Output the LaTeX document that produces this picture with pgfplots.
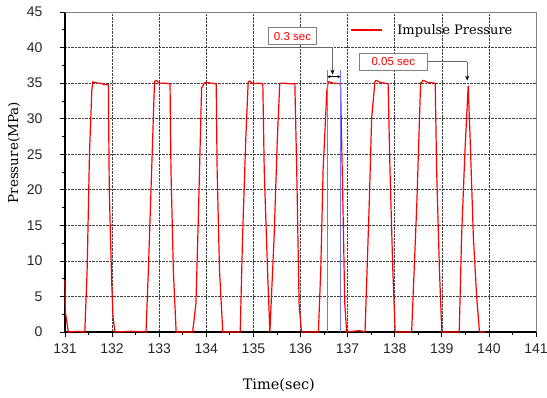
\documentclass[border=0pt]{standalone}
\usepackage{fontspec}
\setmainfont{Liberation Sans}
\newfontfamily\labelfont{DejaVu Serif}
\usepackage{pgfplots}
\pgfplotsset{compat=1.18}
\usetikzlibrary{arrows.meta}
\begin{document}
\begin{tikzpicture}
\begin{axis}[
  scale only axis,
  width=471pt, height=320pt,
  xmin=131, xmax=141, ymin=0, ymax=45,
  xtick={131,132,...,141}, ytick={0,5,...,45},
  minor x tick num=1, minor y tick num=1,
  tick align=outside,
  major tick length=5pt, minor tick length=3pt,
  tick style={black, line width=0.7pt},
  axis x line*=bottom, axis y line*=left,
  axis line style={black, line width=1.2pt, -},
  grid=major,
  major grid style={black!75, densely dotted, line width=0.6pt},
  /pgf/number format/assume math mode=true,
  /pgf/number format/1000 sep={},
  tick label style={font=\fontsize{14}{14}\selectfont, text=black!85},
  x tick label style={yshift=-3pt},
  y tick label style={xshift=-14pt},
  xlabel={Time(sec)},
  ylabel={Pressure(MPa)},
  every axis x label/.style={at={(rel axis cs:0.454,-0.166)}, anchor=center, font=\labelfont\fontsize{14.5}{14.5}\selectfont},
  every axis y label/.style={at={(rel axis cs:-0.108,0.56)}, anchor=center, rotate=90, font=\labelfont\fontsize{13.5}{13.5}\selectfont},
  legend style={at={(rel axis cs:0.605,0.944)}, anchor=west, draw=none, fill=none, inner sep=0pt,
    font=\labelfont\fontsize{13}{13}\selectfont, nodes={inner sep=0pt}, column sep=15pt},
  legend image code/.code={\draw[#1] (0pt,0pt) -- (31pt,0pt);},
  clip=false,
]
\addplot[red, line width=1.2pt, line join=round] coordinates {
(131.00,7.3) (131.01,2.7) (131.07,0) (131.25,0.1) (131.42,0)
(131.47,8.7) (131.52,25.2) (131.57,34.0) (131.59,35.2) (131.62,35.1)
(131.70,35.0) (131.75,35.0) (131.82,34.8) (131.92,34.8) (131.94,20)
(131.99,7.3) (132.02,2.1) (132.06,0) (132.40,0.1) (132.72,0)
(132.77,8.7) (132.84,22.8) (132.90,35.2) (132.94,35.4) (133.00,35.0)
(133.10,35.0) (133.23,34.9) (133.25,22.8) (133.30,8.7) (133.36,0)
(133.71,0) (133.78,4) (133.83,15.8) (133.90,34.3) (133.97,35.1)
(134.10,35.0) (134.21,34.9) (134.23,22.8) (134.28,8.7) (134.35,0)
(134.72,0) (134.77,13.4) (134.84,27.5) (134.89,35.2) (134.92,35.3)
(135.00,34.9) (135.10,35.0) (135.20,34.9) (135.23,22.8) (135.30,8.7)
(135.35,0) (135.44,13.4) (135.51,27.5) (135.56,35.0) (135.65,35.0)
(135.75,34.9) (135.88,34.9) (135.92,22.8) (135.97,4) (136.02,0)
(136.38,0) (136.43,8.7) (136.48,22.8) (136.56,34.0) (136.59,35.2)
(136.70,35.0) (136.85,34.9) (136.90,18.1) (136.94,4) (136.98,0)
(137.25,0.2) (137.37,0) (137.46,18.1) (137.51,30) (137.58,35.2) (137.60,35.4)
(137.70,35.1) (137.86,34.9) (137.90,22.8) (137.96,8.7) (138.01,0)
(138.36,0) (138.47,18.1) (138.55,35.0) (138.61,35.4) (138.70,35.1)
(138.86,35.0) (138.89,22.8) (138.95,8.7) (139.00,0) (139.37,0)
(139.42,13.4) (139.49,25.2) (139.56,34.6) (139.60,27.5) (139.67,13.4)
(139.74,5) (139.80,0) (139.92,0)
};
\addlegendentry{Impulse Pressure}
\addplot[blue!55, line width=0.8pt, forget plot] coordinates {(136.57,0) (136.57,36.9)};
\addplot[blue!55, line width=0.8pt, forget plot] coordinates {(136.85,0) (136.85,36.9)};
% frame top/right
\draw[black!50, line width=0.8pt] (rel axis cs:0,1) -- (rel axis cs:1,1) -- (rel axis cs:1,0);
% annotation 0.3 sec
\draw[black!60, line width=0.7pt] (axis cs:135.03,40.0) -- (axis cs:136.68,40.0);
\draw[black!60, line width=0.7pt, -{Stealth[length=5pt,width=4pt,black]}] (axis cs:136.68,40.0) -- (axis cs:136.68,36.2);
\draw[black, line width=0.5pt, {Stealth[length=3pt,width=3pt]}-{Stealth[length=3pt,width=3pt]}] (axis cs:136.57,35.9) -- (axis cs:136.85,35.9);
\node[draw=black!50, fill=white, line width=0.8pt, text=red, font=\fontsize{11.5}{11.5}\selectfont,
  minimum width=48pt, minimum height=17pt, inner sep=0pt] at (axis cs:135.83,41.6) {0.3 sec};
% annotation 0.05 sec
\draw[black!60, line width=0.7pt] (axis cs:138.69,38.0) -- (axis cs:139.54,38.0);
\draw[black!60, line width=0.7pt, -{Stealth[length=5pt,width=4pt,black]}] (axis cs:139.54,38.0) -- (axis cs:139.54,35.35);
\node[draw=black!50, fill=white, line width=0.8pt, text=red, font=\fontsize{11.5}{11.5}\selectfont,
  minimum width=68pt, minimum height=17.5pt, inner sep=0pt] at (axis cs:137.97,38.0) {0.05 sec};
\coordinate (ll) at (rel axis cs:0,0);
\end{axis}
\pgfresetboundingbox
\path (ll) ++(-65pt,-65pt) rectangle ++(547pt,397pt);
\end{tikzpicture}
\end{document}
